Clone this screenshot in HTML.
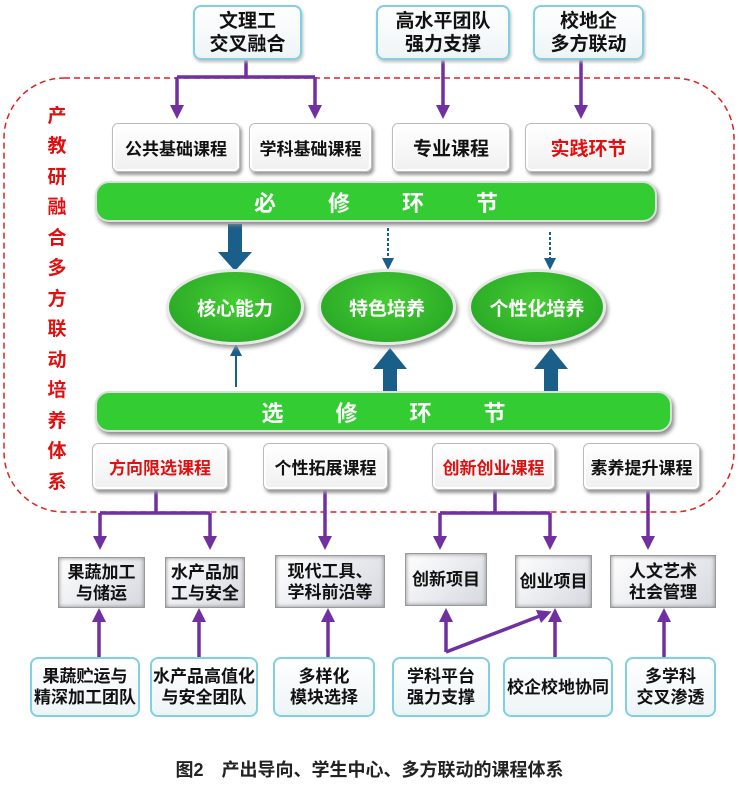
<!DOCTYPE html>
<html><head><meta charset="utf-8"><style>
body{margin:0;width:739px;height:792px;background:#fff;position:relative;overflow:hidden;font-family:"Liberation Sans","Noto Sans CJK SC",sans-serif;font-weight:bold}
.a{position:absolute;display:flex;align-items:center;justify-content:center;text-align:center;box-sizing:border-box}
.tb{border:2px solid #7fd0e0;border-radius:8px;background:linear-gradient(#fff,#eef4f6);font-size:19px;line-height:23px;color:#111;box-shadow:1px 2px 3px #bbb}
.cb{border:1px solid #bbb;border-radius:6px;background:linear-gradient(#fff,#f0f0f0);box-shadow:2px 3px 3px #999, inset 0 0 0 2px #fff;font-size:17px;color:#111}
.red{color:#e01010}
.bar{border-radius:14px;background:#33cc33;border:2px solid #ddd;box-shadow:2px 3px 4px #888;color:#fff;font-size:22px;letter-spacing:52px;padding-left:52px}
.el{border-radius:50%;background:radial-gradient(ellipse at 50% 40%,#44cc33,#22a022);border:3px solid #e8e8e8;box-shadow:2px 3px 4px #999;color:#fff;font-size:19px}
.gb{border:1px solid #999;background:linear-gradient(135deg,#fff,#d6d8e0);box-shadow:inset 0 0 4px #888;font-size:17px;line-height:21px;color:#111}
.bb{border:2px solid #7fd0e0;border-radius:8px;background:linear-gradient(#fff,#eef4f6);font-size:17px;line-height:21px;color:#111}
</style></head><body>
<svg width="739" height="792" style="position:absolute;left:0;top:0">
<defs>
<marker id="p" markerWidth="4" markerHeight="4" refX="2" refY="2" orient="auto"><path d="M0,0L4,2L0,4z" fill="#7030a0"/></marker>
<marker id="b" markerWidth="6" markerHeight="6" refX="3" refY="3" orient="auto"><path d="M0,0L6,3L0,6z" fill="#1a5f8a"/></marker>
</defs>
<rect x="4" y="78" width="730" height="434" rx="60" fill="none" stroke="#e02020" stroke-width="1.5" stroke-dasharray="6,4"/>
<g stroke="#7030a0" stroke-width="3.5" fill="none">
<path d="M246 60V77M177 77H315"/>
<path d="M177 77V112" marker-end="url(#p)"/><path d="M315 77V112" marker-end="url(#p)"/>
<path d="M443 60V112" marker-end="url(#p)"/><path d="M581 60V112" marker-end="url(#p)"/>
<path d="M156 490V513M100 513H210"/>
<path d="M100 513V543" marker-end="url(#p)"/><path d="M210 513V543" marker-end="url(#p)"/>
<path d="M325 490V543" marker-end="url(#p)"/>
<path d="M495 490V513M440 513H550"/>
<path d="M440 513V543" marker-end="url(#p)"/><path d="M550 513V543" marker-end="url(#p)"/>
<path d="M648 490V543" marker-end="url(#p)"/>
<path d="M99 657V615" marker-end="url(#p)"/><path d="M199 657V615" marker-end="url(#p)"/>
<path d="M328 657V615" marker-end="url(#p)"/><path d="M446 652V615" marker-end="url(#p)"/>
<path d="M555 657V615" marker-end="url(#p)"/><path d="M664 657V615" marker-end="url(#p)"/>
<path d="M446 652L545 614" marker-end="url(#p)"/>
</g>
<g fill="#1a5f8a">
<path d="M228 224h14v28h10l-17 19l-17-19h10z"/>
<path d="M383 393h14v-24h10l-17-21l-17 21h10z"/>
<path d="M544 393h14v-24h10l-17-21l-17 21h10z"/>
</g>
<g stroke="#1a5f8a" stroke-width="2" fill="none">
<path d="M388 228V264" stroke-dasharray="3,2" marker-end="url(#b)"/>
<path d="M550 232V264" stroke-dasharray="3,2" marker-end="url(#b)"/>
<path d="M236 387V350" marker-end="url(#b)"/>
</g>
</svg>
<div class="a tb" style="left:193px;top:5px;width:109px;height:55px">文理工<br>交叉融合</div>
<div class="a tb" style="left:376px;top:5px;width:134px;height:55px">高水平团队<br>强力支撑</div>
<div class="a tb" style="left:533px;top:5px;width:111px;height:55px">校地企<br>多方联动</div>
<div class="a red" style="left:42px;top:100px;width:30px;height:400px;flex-direction:column;font-size:19px;line-height:30.5px">产<br>教<br>研<br>融<br>合<br>多<br>方<br>联<br>动<br>培<br>养<br>体<br>系</div>
<div class="a cb" style="left:112px;top:123px;width:128px;height:49px">公共基础课程</div>
<div class="a cb" style="left:249px;top:123px;width:123px;height:49px">学科基础课程</div>
<div class="a cb" style="left:392px;top:123px;width:118px;height:49px;font-size:19px">专业课程</div>
<div class="a cb red" style="left:525px;top:123px;width:127px;height:49px;font-size:19px">实践环节</div>
<div class="a bar" style="left:95px;top:181px;width:562px;height:41px">必修环节</div>
<div class="a el" style="left:166px;top:269px;width:138px;height:76px">核心能力</div>
<div class="a el" style="left:318px;top:269px;width:138px;height:76px">特色培养</div>
<div class="a el" style="left:468px;top:269px;width:138px;height:76px">个性化培养</div>
<div class="a bar" style="left:95px;top:391px;width:577px;height:41px">选修环节</div>
<div class="a cb red" style="left:92px;top:443px;width:136px;height:47px">方向限选课程</div>
<div class="a cb" style="left:263px;top:443px;width:125px;height:47px">个性拓展课程</div>
<div class="a cb red" style="left:432px;top:443px;width:123px;height:47px">创新创业课程</div>
<div class="a cb" style="left:583px;top:443px;width:117px;height:47px">素养提升课程</div>
<div class="a gb" style="left:58px;top:557px;width:87px;height:51px">果蔬加工<br>与储运</div>
<div class="a gb" style="left:165px;top:557px;width:80px;height:51px">水产品加<br>工与安全</div>
<div class="a gb" style="left:275px;top:555px;width:110px;height:53px">现代工具、<br>学科前沿等</div>
<div class="a gb" style="left:405px;top:553px;width:82px;height:53px">创新项目</div>
<div class="a gb" style="left:515px;top:555px;width:77px;height:53px">创业项目</div>
<div class="a gb" style="left:610px;top:555px;width:106px;height:53px">人文艺术<br>社会管理</div>
<div class="a bb" style="left:30px;top:657px;width:110px;height:60px">果蔬贮运与<br>精深加工团队</div>
<div class="a bb" style="left:150px;top:657px;width:108px;height:60px">水产品高值化<br>与安全团队</div>
<div class="a bb" style="left:273px;top:657px;width:102px;height:60px">多样化<br>模块选择</div>
<div class="a bb" style="left:392px;top:657px;width:98px;height:60px">学科平台<br>强力支撑</div>
<div class="a bb" style="left:503px;top:657px;width:110px;height:60px">校企校地协同</div>
<div class="a bb" style="left:625px;top:657px;width:91px;height:60px">多学科<br>交叉渗透</div>
<div class="a" style="left:0;top:756px;width:739px;height:26px;font-size:18px;color:#222">图2　产出导向、学生中心、多方联动的课程体系</div>
</body></html>
